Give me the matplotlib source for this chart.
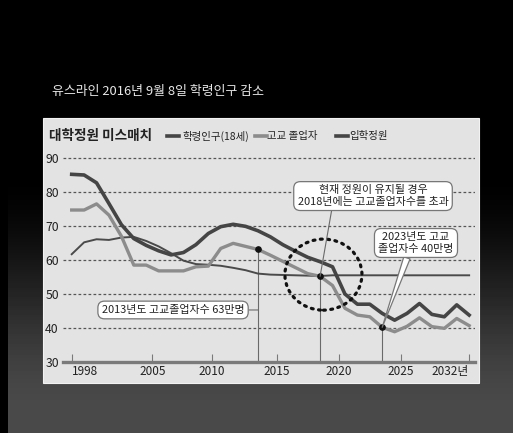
import matplotlib
matplotlib.use('Agg')
import matplotlib.pyplot as plt
import numpy as np
from matplotlib.patches import Rectangle, Ellipse
from matplotlib.lines import Line2D

plt.rcParams['font.family'] = ['Noto Sans CJK KR', 'DejaVu Sans']

# ---------------- data ----------------
years = list(range(1998, 2031))
school_age = [85.2, 85.0, 82.7, 76.6, 70.4, 66.3, 64.3, 62.7, 61.5, 62.2, 64.5,
              67.8, 69.8, 70.5, 69.9, 68.6, 66.8, 64.5, 62.6, 60.8, 59.5, 58.0,
              50.0, 47.0, 47.0, 44.3, 42.3, 44.3, 47.2, 44.0, 43.3, 46.8, 43.8]
graduates = [74.7, 74.7, 76.5, 73.2, 67.0, 58.5, 58.5, 56.8, 56.8, 56.8, 58.0,
             58.2, 63.4, 64.9, 64.0, 63.1, 61.4, 59.6, 57.8, 56.0, 55.2, 52.5,
             45.8, 43.8, 43.3, 40.2, 38.9, 40.5, 43.0, 40.4, 39.9, 42.8, 40.7]
quota = [61.7, 65.2, 66.1, 65.9, 66.6, 66.8, 65.6, 64.0, 62.0, 59.8, 58.8,
         58.6, 58.3, 57.7, 57.0, 56.0, 55.7, 55.6, 55.5, 55.4, 55.3, 55.5,
         55.5, 55.5, 55.5, 55.5, 55.5, 55.5, 55.5, 55.5, 55.5, 55.5, 55.5]

series_names = ['학령인구(18세)', '고교 졸업자', '입학정원']
ytick_vals = [30, 40, 50, 60, 70, 80, 90]
xtick_labels = ['1998', '2005', '2010', '2015', '2020', '2025', '2032년']
xtick_pos = [1998, 2004.5, 2009.3, 2014.5, 2019.5, 2024.5, 2030]

header = '유스라인 2016년 9월 8일 학령인구 감소'
title = '대학정원 미스매치'
note_2018 = '현재 정원이 유지될 경우\n2018년에는 고교졸업자수를 초과'
note_2023 = '2023년도 고교\n졸업자수 40만명'
note_2013 = '2013년도 고교졸업자수 63만명'

# ---------------- figure ----------------
W, H = 513, 433
fig = plt.figure(figsize=(W / 100, H / 100), dpi=100)

# background gradient
bg = fig.add_axes([0, 0, 1, 1], zorder=-10)
bg.axis('off')
yy = np.linspace(0, 1, H)[:, None]
t = np.clip((yy * H - 170) / (420 - 170), 0, 1)
t = t * t * (3 - 2 * t)
img = np.repeat(t * 0.29, W, axis=1)
img[:, :8] = 0
bg.imshow(img, cmap='gray', vmin=0, vmax=1, aspect='auto',
          extent=[0, 1, 0, 1], origin='upper')
bg.set_xlim(0, 1)
bg.set_ylim(0, 1)


def fx(px):
    return px / W


def fy(py):
    return 1 - py / H


# panel
fig.patches.append(Rectangle((fx(43), fy(383)), fx(479) - fx(43), fy(118) - fy(383),
                             transform=fig.transFigure, facecolor='#e3e3e3',
                             edgecolor='#f2f2f2', linewidth=0.8, zorder=-5))

fig.text(fx(52), fy(91), header, color='#e8e8e8', fontsize=9.3, va='center')
fig.text(fx(49), fy(136), title, color='#222222', fontsize=9.8,
         fontweight='bold', va='center')

# legend
leg_items = [(167, 182, '#454545', 2.6, series_names[0]),
             (255, 267, '#8c8c8c', 2.6, series_names[1]),
             (336, 349, '#454545', 2.6, series_names[2])]
for x0, x1, c, lw, name in leg_items:
    fig.lines.append(Line2D([fx(x0), fx(x0 + 12)], [fy(136), fy(136)],
                            transform=fig.transFigure, color=c, linewidth=lw))
    fig.text(fx(x1), fy(136), name, color='#222222', fontsize=7.5,
             fontweight='medium', va='center')

# ---------------- axes ----------------
ax_l, ax_r, ax_t, ax_b = 63, 475, 150, 362
ax = fig.add_axes([fx(ax_l), fy(ax_b), fx(ax_r) - fx(ax_l), fy(ax_t) - fy(ax_b)])
ax.patch.set_alpha(0)
px_per_year = 12.42
x0 = 1998 + (ax_l - 71.7) / px_per_year
x1 = 1998 + (ax_r - 71.7) / px_per_year
ax.set_xlim(x0, x1)
ax.set_ylim(30, 30 + (ax_b - ax_t) / 3.4)

for s in ['top', 'right', 'left']:
    ax.spines[s].set_visible(False)
ax.spines['bottom'].set_color('#7a7a7a')
ax.spines['bottom'].set_linewidth(2.4)

for v in ytick_vals[1:]:
    ax.axhline(v, color='#555555', linewidth=0.9, linestyle=(0, (2.2, 1.8)), zorder=1)

ax.set_yticks(ytick_vals)
ax.set_yticklabels([str(v) for v in ytick_vals], fontsize=8.8, color='#222222',
                   fontweight='medium')
ax.tick_params(axis='y', length=0, pad=3)
ax.set_xticks(xtick_pos)
ax.set_xticklabels(xtick_labels, fontsize=8.5, color='#222222', fontweight='medium')
ax.tick_params(axis='x', direction='in', length=6, width=0.8, color='#7a7a7a', pad=2)
lbls = ax.get_xticklabels()
lbls[0].set_ha('left')
lbls[-1].set_ha('right')

# lines
ax.plot(years, quota, color='#4a4a4a', linewidth=1.4, zorder=3,
        solid_joinstyle='round')
ax.plot(years, graduates, color='#8c8c8c', linewidth=2.4, zorder=4,
        solid_joinstyle='round')
ax.plot(years, school_age, color='#454545', linewidth=2.6, zorder=5,
        solid_joinstyle='round')

# highlighted points and guide lines
y2013 = graduates[years.index(2013)]
y2018 = graduates[years.index(2018)]
y2023 = graduates[years.index(2023)]
for yr, val in [(2013, y2013), (2018, y2018), (2023, y2023)]:
    ax.plot([yr, yr], [30, val], color='#6a6a6a', linewidth=0.8, zorder=2)
    ax.plot([yr], [val], 'o', color='#111111', markersize=3.8, zorder=7)

# dotted circle
ax.add_patch(Ellipse((2018.27, 55.7), 6.2, 20.9, fill=False, edgecolor='#111111',
                     linewidth=2.3, linestyle=(0, (0.6, 1.7)), zorder=6,
                     capstyle='round'))

box = dict(boxstyle='round,pad=0.35,rounding_size=0.6', facecolor='white',
           edgecolor='#777777', linewidth=0.9)

ax.annotate(note_2018, xy=(2018, y2018), xytext=(2022.26, 78.8),
            ha='center', va='center', fontsize=7.9, color='#222222',
            fontweight='medium', linespacing=1.15, bbox=box, zorder=8,
            arrowprops=dict(arrowstyle='-', color='#6a6a6a', linewidth=0.8,
                            shrinkA=0, shrinkB=0,
                            relpos=(0.23, 0.0)))

ax.annotate(note_2023, xy=(2023, y2023), xytext=(2025.72, 65.0),
            ha='center', va='center', fontsize=7.9, color='#222222',
            fontweight='medium', linespacing=1.15, bbox=box, zorder=8,
            arrowprops=dict(arrowstyle='wedge,tail_width=0.6,shrink_factor=0.5',
                            facecolor='white', edgecolor='#777777', linewidth=0.9,
                            shrinkA=0, shrinkB=0, relpos=(0.4, 0.0)))

ax.annotate(note_2013, xy=(2013, 45.3), xytext=(2006.16, 45.3),
            ha='center', va='center', fontsize=7.9, color='#222222',
            fontweight='medium', bbox=box, zorder=8,
            arrowprops=dict(arrowstyle='-', color='#6a6a6a', linewidth=0.8,
                            shrinkA=0, shrinkB=0, relpos=(1.0, 0.5)))

fig.savefig('out.png', dpi=100)
